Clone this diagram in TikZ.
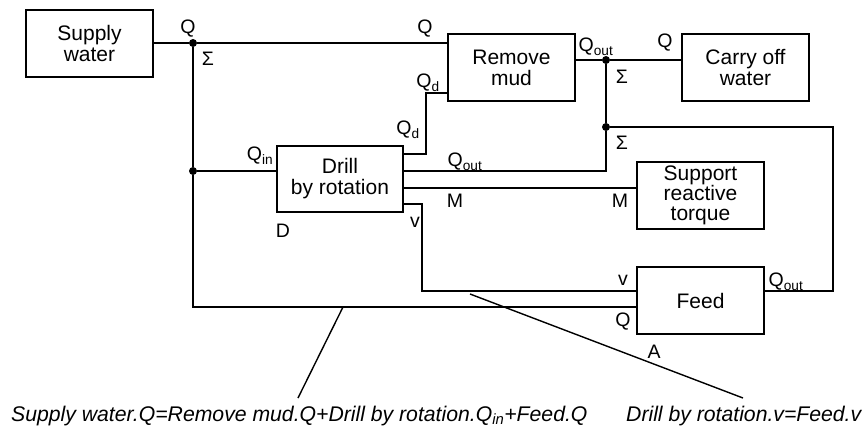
\documentclass[tikz,border=0pt]{standalone}
\usepackage{fontspec}
\setmainfont{Liberation Sans}
\begin{document}
\begin{tikzpicture}[x=1pt,y=-1pt,
  box/.style={draw, line width=1.4pt, minimum width=127pt, minimum height=67pt, align=center, font=\fontsize{21}{21}\selectfont, inner sep=0pt},
  wire/.style={line width=1.4pt},
  lbl/.style={font=\fontsize{19.5}{19.5}\selectfont, inner sep=0pt},
  eqn/.style={font=\fontsize{21.2}{22}\selectfont\itshape, inner sep=0pt, anchor=base west},
  jdot/.style={circle, fill, inner sep=0pt, minimum size=8pt}]
\useasboundingbox (0,0) rectangle (863,432);
% boxes
\node[box] (sw) at (89.5,43.5) {Supply\\water};
\node[box] (rm) at (511.5,67.5) {Remove\\mud};
\node[box] (co) at (745.5,67.5) {Carry off\\water};
\node[box, minimum width=126pt, minimum height=66pt] (dr) at (340,179) {Drill\\by rotation};
\node[box, font=\fontsize{21}{20}\selectfont] (sr) at (700.5,195.5) {Support\\reactive\\torque};
\node[box] (fd) at (700.5,300.5) {Feed};
% junctions
\node[jdot] (j1) at (193,43) {};
\node[jdot] (j2) at (193,171) {};
\node[jdot] (j3) at (606,60) {};
\node[jdot] (j4) at (606,127) {};
% corner points
\coordinate (bl) at (193,307);
\coordinate (qd1) at (426,154);
\coordinate (qd2) at (426,93);
\coordinate (qo) at (606,171);
\coordinate (mm) at (520,188);
\coordinate (v1) at (422,204);
\coordinate (v2) at (422,291);
\coordinate (r1) at (833,127);
\coordinate (r2) at (833,291);
\coordinate (d1a) at (343,307);
\coordinate (d1b) at (298,398);
\coordinate (d2a) at (470,294);
\coordinate (d2b) at (743,398);
% wires
\draw[wire] (sw.east |- j1) -- (j1) -- (rm.west |- j1);
\draw[wire] (j1) -- (j2) -- (j2 -| dr.west);
\draw[wire] (j2) -- (bl) -- (bl -| fd.west);
\draw[wire] (qd1 -| dr.east) -- (qd1) -- (qd2) -- (qd2 -| rm.west);
\draw[wire] (qo -| dr.east) -- (qo) -- (j4) -- (j3);
\draw[wire] (rm.east |- j3) -- (j3) -- (co.west |- j3);
\draw[wire] (mm -| dr.east) -- (mm -| sr.west);
\draw[wire] (v1 -| dr.east) -- (v1) -- (v2) -- (v2 -| fd.west);
\draw[wire] (j4) -- (r1) -- (r2) -- (r2 -| fd.east);
\draw[wire] (d1a) -- (d1b);
\draw[wire] (d2a) -- (d2b);
% port labels
\node[lbl] (l1) at (188,29) {Q};
\node[lbl] (l2) at (208,59) {Σ};
\node[lbl] (l3) at (425,29) {Q};
\node[lbl] (l4) at (428,83) {Q\textsubscript{d}};
\node[lbl] (l5) at (408,130) {Q\textsubscript{d}};
\node[lbl] (l6) at (260,156) {Q\textsubscript{in}};
\node[lbl] (l7) at (596,47) {Q\textsubscript{out}};
\node[lbl] (l8) at (665,43) {Q};
\node[lbl] (l9) at (622,77) {Σ};
\node[lbl] (l10) at (622,143) {Σ};
\node[lbl] (l11) at (465,162) {Q\textsubscript{out}};
\node[lbl] (l12) at (455,201) {M};
\node[lbl] (l13) at (620,201) {M};
\node[lbl] (l14) at (283,231) {D};
\node[lbl] (l15) at (415,222) {v};
\node[lbl] (l16) at (623,280) {v};
\node[lbl] (l17) at (623,322) {Q};
\node[lbl] (l18) at (786,282) {Q\textsubscript{out}};
\node[lbl] (l19) at (654,352) {A};
% equations
\node[eqn] (e1) at (11,421) {Supply water.Q=Remove mud.Q+Drill by rotation.Q\textsubscript{in}+Feed.Q};
\node[eqn] (e2) at (626,421) {Drill by rotation.v=Feed.v};
\end{tikzpicture}
\end{document}
